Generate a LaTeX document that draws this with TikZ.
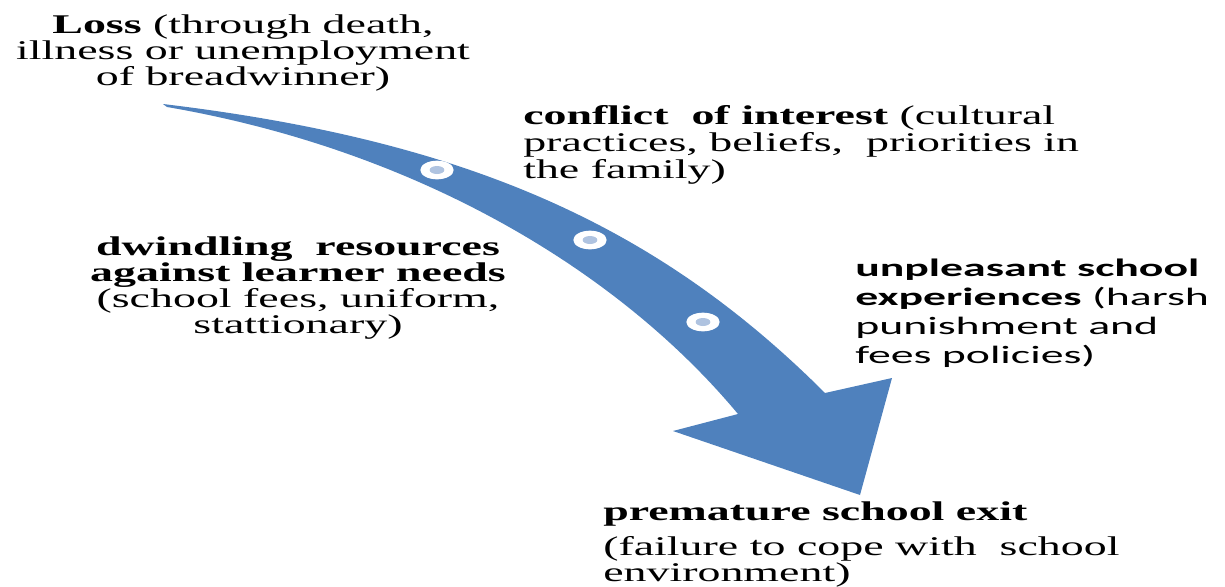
\documentclass[tikz,border=0pt]{standalone}
\usepackage{fontspec}
\setmainfont[FakeStretch=1.7]{Liberation Serif}
\newfontfamily\calibrifont[FakeStretch=1.83]{Carlito}
\usepackage{xcolor}
\definecolor{arrowblue}{HTML}{4F81BD}
\definecolor{dotblue}{HTML}{AFC3E0}
\usetikzlibrary{positioning}

\begin{document}
\begin{tikzpicture}[x=0.75pt, y=-0.75pt, every node/.style={inner sep=0pt, font=\fontsize{20.25}{19.5}\selectfont}]
    \useasboundingbox (0,0) rectangle (1225,586);

    % the bent arrow
    \fill[arrowblue] (163,104) .. controls (463,140) and (655,223) .. (825,393)
        -- (892,378) -- (860,495) -- (673,431) -- (738,414)
        .. controls (618,270) and (417,150) .. (167,107) -- cycle;

    % dots on the arrow
    \foreach \px/\py in {437/170, 590/240, 703/322} {
        \fill[white] (\px,\py) ellipse [x radius=12.5pt, y radius=7pt];
        \fill[dotblue] (\px,\py) ellipse [x radius=5.5pt, y radius=3pt];
    }

    \node[anchor=north, align=center] at (243,14) (loss) {\textbf{Loss} (through death,\\ illness or unemployment\\ of breadwinner)};
    \node[anchor=north west, align=left, font=\fontsize{20.25}{20.25}\selectfont] at (523,105) (conflict) {\textbf{conflict~ of interest} (cultural\\ practices, beliefs,~ priorities in\\ the family)};
    \node[anchor=north, align=center] at (298,236) (dwindle) {\textbf{dwindling~ resources}\\ \textbf{against learner needs}\\ (school fees, uniform,\\ stattionary)};
    \node[anchor=north west, align=left, font=\calibrifont\fontsize{18.75}{21.75}\selectfont] at (855,259) (unpleasant) {\textbf{unpleasant school}\\ \textbf{experiences} (harsh\\ punishment and\\ fees policies)};
    \node[anchor=north west, align=left] at (603,501) (exit) {\textbf{premature school exit}\\[6.75pt] (failure to cope with~ school\\ environment)};
\end{tikzpicture}
\end{document}
